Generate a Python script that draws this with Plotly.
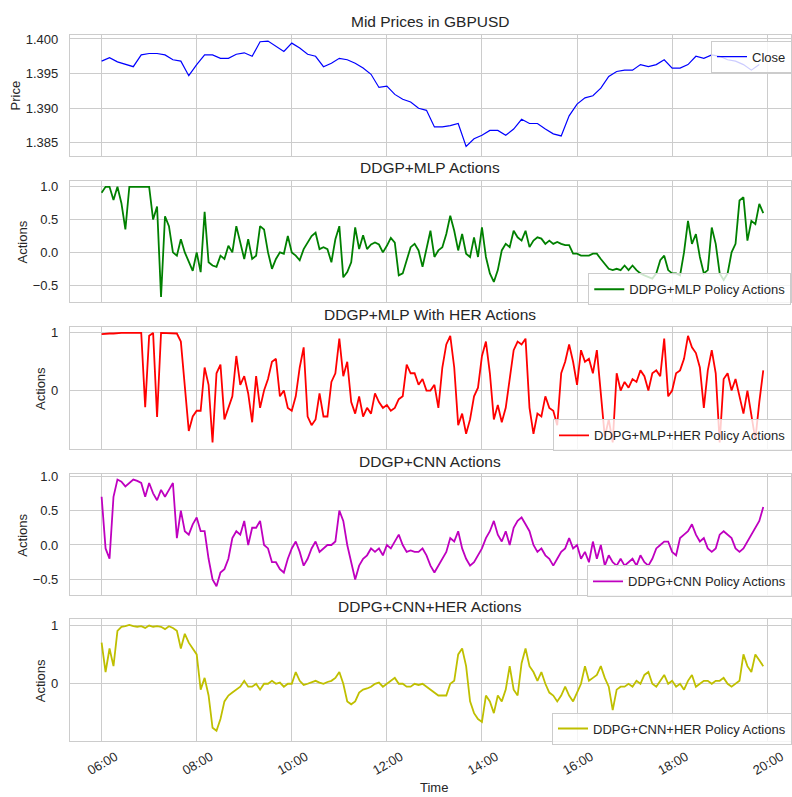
import pandas as pd
import plotly.graph_objects as go
from plotly.subplots import make_subplots

# ---------------- data ----------------
DAY = "2021-01-04 "
# price sampled every 10 minutes from 06:00 to 19:50 (6 values per hour)
price_close = [
    1.3968, 1.3973, 1.3967, 1.3963, 1.3960, 1.3977,   # 06
    1.3979, 1.3979, 1.3977, 1.3970, 1.3968, 1.3947,   # 07
    1.3963, 1.3977, 1.3977, 1.3972, 1.3972, 1.3978,   # 08
    1.3980, 1.3975, 1.3996, 1.3997, 1.3989, 1.3982,   # 09
    1.3994, 1.3987, 1.3978, 1.3975, 1.3960, 1.3965,   # 10
    1.3972, 1.3970, 1.3965, 1.3958, 1.3949, 1.3930,   # 11
    1.3932, 1.3920, 1.3913, 1.3909, 1.3900, 1.3897,   # 12
    1.3873, 1.3873, 1.3875, 1.3878, 1.3845, 1.3856,   # 13
    1.3861, 1.3868, 1.3868, 1.3861, 1.3870, 1.3884,   # 14
    1.3878, 1.3878, 1.3870, 1.3863, 1.3860, 1.3889,   # 15
    1.3906, 1.3915, 1.3918, 1.3929, 1.3946, 1.3953,   # 16
    1.3955, 1.3955, 1.3963, 1.3960, 1.3963, 1.3970,   # 17
    1.3958, 1.3958, 1.3963, 1.3975, 1.3972, 1.3977,   # 18
    1.3975, 1.3970, 1.3968, 1.3963, 1.3955, 1.3963,   # 19
]

# actions sampled every 5 minutes from 06:00 to 19:55 (12 values per hour)
mlp_actions = [
    0.91, 1.0, 1.0, 0.8, 1.0, 0.75, 0.35, 1.0, 1.0, 1.0, 1.0, 1.0,
    1.0, 0.5, 0.7, -0.68, 0.55, 0.4, 0.0, -0.05, 0.2, 0.0, -0.15, -0.28,
    0.0, -0.3, 0.62, -0.15, -0.2, -0.22, -0.05, -0.1, 0.1, 0.0, 0.4, 0.15,
    -0.1, 0.2, -0.1, -0.05, 0.4, 0.35, 0.0, -0.25, -0.1, 0.0, -0.02, 0.25,
    0.0, -0.05, -0.12, 0.05, 0.15, 0.25, 0.3, 0.05, 0.08, 0.05, -0.15, 0.2,
    0.4, -0.38, -0.3, -0.15, 0.38, 0.05, 0.26, 0.05, 0.12, 0.15, 0.12, 0.0,
    0.1, 0.22, 0.15, -0.35, -0.32, -0.12, 0.08, 0.13, 0.03, -0.22, 0.08, 0.33,
    -0.07, 0.03, 0.08, 0.28, 0.56, 0.33, 0.03, 0.28, -0.02, -0.07, 0.23, -0.07,
    0.38, -0.07, -0.32, -0.45, -0.27, 0.03, 0.13, 0.08, 0.33, 0.23, 0.18, 0.33,
    0.08, 0.18, 0.23, 0.21, 0.13, 0.18, 0.13, 0.16, 0.13, 0.11, 0.11, -0.02,
    -0.02, -0.05, -0.05, -0.05, -0.02, -0.02, -0.1, -0.17, -0.25, -0.27, -0.25, -0.27,
    -0.2, -0.27, -0.2, -0.27, -0.32, -0.35, -0.37, -0.4, -0.32, -0.12, -0.05, -0.27,
    -0.32, -0.32, -0.35, 0.0, 0.48, 0.13, 0.28, -0.07, -0.32, -0.27, 0.38, 0.13,
    -0.32, -0.42, -0.32, 0.0, 0.13, 0.79, 0.84, 0.18, 0.48, 0.43, 0.74, 0.6,
]

mlp_her_actions = [
    0.98, 0.99, 0.99, 0.99, 1.0, 1.0, 1.0, 1.0, 1.0, 1.0, 1.0, -0.29,
    0.95, 1.0, -0.46, 1.0, 1.0, 1.0, 1.0, 0.99, 0.85, 0.0, -0.7, -0.45,
    -0.35, -0.35, 0.4, 0.1, -0.9, 0.3, 0.45, -0.5, -0.3, -0.1, 0.6, 0.1,
    0.25, -0.05, -0.55, 0.25, -0.3, 0.0, 0.2, 0.5, 0.55, -0.1, 0.0, -0.3,
    -0.35, -0.1, 0.4, 0.75, -0.45, -0.6, -0.5, -0.05, -0.45, -0.45, 0.15, 0.3,
    0.9, 0.25, 0.5, -0.2, -0.4, -0.1, -0.45, -0.3, -0.4, -0.05, -0.2, -0.3,
    -0.25, -0.35, -0.3, -0.15, -0.1, 0.45, 0.3, 0.3, 0.1, 0.2, 0.0, 0.0,
    0.1, -0.3, 0.4, 0.8, 0.95, 0.4, -0.6, -0.4, -0.75, -0.5, -0.1, 0.05,
    0.6, 0.85, 0.3, -0.5, -0.25, -0.55, -0.3, 0.2, 0.7, 0.85, 0.8, 0.9,
    -0.3, -0.75, -0.4, -0.45, -0.1, -0.3, -0.35, -0.6, 0.3, 0.5, 0.8, 0.5,
    0.1, 0.7, 0.5, 0.55, 0.3, 0.7, -0.1, -0.8, -0.5, -0.9, 0.3, 0.0,
    0.15, 0.05, 0.2, 0.15, 0.35, 0.25, 0.0, 0.3, 0.35, 0.25, 0.9, -0.1,
    0.0, 0.3, 0.35, 0.55, 0.95, 0.75, 0.65, 0.4, -0.3, 0.35, 0.7, 0.3,
    -0.9, 0.2, 0.3, 0.0, 0.2, -0.1, -0.4, 0.0, -0.4, -0.85, -0.2, 0.35,
]

cnn_actions = [
    0.7, -0.05, -0.2, 0.7, 0.95, 0.92, 0.85, 0.9, 0.95, 0.93, 0.9, 0.7,
    0.9, 0.75, 0.65, 0.8, 0.7, 0.8, 0.9, 0.1, 0.5, 0.2, 0.15, 0.3,
    0.4, 0.2, 0.2, -0.2, -0.5, -0.6, -0.4, -0.35, -0.2, 0.1, 0.2, 0.15,
    0.35, 0.0, 0.25, 0.25, 0.35, 0.0, -0.05, -0.25, -0.25, -0.35, -0.4, -0.2,
    -0.05, 0.05, -0.1, -0.3, -0.2, -0.05, 0.05, -0.1, -0.05, 0.0, 0.0, 0.05,
    0.5, 0.35, 0.0, -0.25, -0.5, -0.3, -0.2, -0.15, -0.05, -0.1, -0.05, -0.15,
    0.0, -0.05, 0.05, 0.15, 0.0, -0.1, -0.08, -0.1, -0.1, -0.05, -0.15, -0.3,
    -0.4, -0.3, -0.2, -0.1, 0.1, 0.05, 0.2, -0.05, -0.2, -0.3, -0.25, -0.15,
    -0.05, 0.1, 0.2, 0.35, 0.15, 0.05, 0.2, 0.0, 0.25, 0.35, 0.4, 0.3,
    0.2, 0.0, -0.1, -0.05, -0.15, -0.2, -0.3, -0.2, -0.1, -0.05, 0.1, -0.05,
    0.0, -0.2, -0.1, -0.25, 0.05, -0.2, 0.0, -0.3, -0.15, -0.25, -0.3, -0.2,
    -0.3, -0.25, -0.2, -0.3, -0.15, -0.25, -0.3, -0.2, -0.05, 0.0, 0.05, 0.05,
    -0.1, -0.15, 0.1, 0.15, 0.2, 0.3, 0.15, 0.05, 0.1, -0.05, -0.1, -0.05,
    0.15, 0.2, 0.15, 0.1, -0.05, -0.1, -0.05, 0.05, 0.15, 0.25, 0.35, 0.55,
]

cnn_her_actions = [
    0.7, 0.2, 0.6, 0.3, 0.9, 0.97, 0.98, 1.0, 0.98, 0.97, 0.98, 0.95,
    0.99, 0.97, 0.98, 0.97, 0.93, 0.98, 0.95, 0.9, 0.6, 0.85, 0.7, 0.6,
    0.5, -0.1, 0.1, -0.2, -0.75, -0.8, -0.6, -0.3, -0.2, -0.15, -0.1, -0.05,
    0.05, -0.05, -0.05, 0.0, -0.1, 0.0, 0.0, 0.05, 0.0, 0.02, -0.05, 0.0,
    0.0, 0.2, 0.05, -0.02, 0.0, 0.03, 0.05, 0.02, 0.0, 0.03, 0.05, 0.1,
    0.2, 0.0, -0.3, -0.35, -0.3, -0.15, -0.1, -0.08, -0.05, 0.0, 0.02, -0.05,
    0.0, 0.05, 0.1, 0.0, 0.0, -0.05, -0.05, 0.0, -0.02, 0.0, -0.05, -0.1,
    -0.15, -0.2, -0.2, -0.2, 0.0, 0.05, 0.5, 0.6, 0.3, -0.3, -0.5, -0.6,
    -0.65, -0.2, -0.3, -0.5, -0.2, -0.3, -0.1, 0.3, -0.1, -0.2, 0.35, 0.6,
    0.3, 0.2, 0.05, 0.2, 0.0, -0.15, -0.2, -0.3, -0.2, -0.05, -0.2, -0.3,
    -0.15, 0.0, 0.3, 0.05, 0.1, 0.15, 0.3, 0.1, -0.05, -0.45, -0.1, -0.05,
    -0.05, 0.0, -0.05, 0.05, 0.0, 0.15, 0.2, 0.0, -0.05, 0.05, 0.15, 0.0,
    0.05, -0.05, 0.0, -0.1, 0.05, 0.15, -0.05, 0.0, 0.05, 0.05, 0.0, 0.05,
    0.05, 0.1, 0.0, -0.05, 0.0, 0.05, 0.5, 0.3, 0.2, 0.5, 0.4, 0.3,
]

times_price = pd.date_range(DAY + "06:00", periods=len(price_close), freq="10min")
times_actions = pd.date_range(DAY + "06:00", periods=len(mlp_actions), freq="5min")

x_tick_labels = ["06:00", "08:00", "10:00", "12:00", "14:00", "16:00", "18:00", "20:00"]
x_tick_vals = [DAY + t for t in x_tick_labels]

panel_titles = ["Mid Prices in GBPUSD", "DDGP+MLP Actions", "DDGP+MLP With HER Actions",
                "DDGP+CNN Actions", "DDPG+CNN+HER Actions"]
y_titles = ["Price", "Actions", "Actions", "Actions", "Actions"]
series_names = ["Close", "DDPG+MLP Policy Actions", "DDPG+MLP+HER Policy Actions",
                "DDPG+CNN Policy Actions", "DDPG+CNN+HER Policy Actions"]
y_tick_vals = [[1.385, 1.390, 1.395, 1.400], [-0.5, 0.0, 0.5, 1.0], [0, 1],
               [-0.5, 0.0, 0.5, 1.0], [0, 1]]
y_tick_text = [["1.385", "1.390", "1.395", "1.400"], ["\u22120.5", "0.0", "0.5", "1.0"],
               ["0", "1"], ["\u22120.5", "0.0", "0.5", "1.0"], ["0", "1"]]

# ---------------- styling / layout ----------------
W, H = 792, 797
colors = ["#0000ff", "#008000", "#ff0000", "#bf00bf", "#bfbf00"]
widths = [1.2, 1.8, 1.8, 1.8, 1.8]
panel_px = [(30, 152), (177, 299), (324, 447), (472, 594), (618, 741)]  # top, bottom in px
y_ranges = [[1.3831, 1.4006], [-0.758, 1.09], [-1.017, 1.103], [-0.73, 1.03], [-0.98, 1.10]]
legend_px = [(712, 36), (589, 270), (554, 417), (588, 564), (553, 712)]
ylabel_x = [15, 23, 40, 23, 40]
GRID = "#cccccc"
TXT = "#262626"
FONT = "Liberation Sans, Arial, sans-serif"

fig = make_subplots(rows=5, cols=1)

xs = [times_price] + [times_actions] * 4
ys = [price_close, mlp_actions, mlp_her_actions, cnn_actions, cnn_her_actions]
for i in range(5):
    leg = "legend" if i == 0 else f"legend{i + 1}"
    fig.add_trace(go.Scatter(x=xs[i], y=ys[i], mode="lines", name=series_names[i],
                             line=dict(color=colors[i], width=widths[i]),
                             legend=leg), row=i + 1, col=1)

layout_updates = {}
annotations = []
for i in range(5):
    top, bot = panel_px[i]
    xa = "xaxis" if i == 0 else f"xaxis{i + 1}"
    ya = "yaxis" if i == 0 else f"yaxis{i + 1}"
    layout_updates[xa] = dict(
        domain=[70 / W, 1.0], type="date",
        range=[DAY + "05:20", DAY + "20:30"],
        tickvals=x_tick_vals, ticktext=x_tick_labels,
        showticklabels=(i == 4), tickangle=-30, ticks="",
        showgrid=True, gridcolor=GRID, gridwidth=1,
        showline=True, mirror=True, linecolor=GRID, linewidth=1,
        zeroline=False, tickfont=dict(size=13, color=TXT, family=FONT),
        ticklabelshift=14, ticklabelstandoff=2,
    )
    layout_updates[ya] = dict(
        domain=[1 - bot / H, 1 - top / H], range=y_ranges[i],
        tickvals=y_tick_vals[i], ticktext=y_tick_text[i], ticks="",
        showgrid=True, gridcolor=GRID, gridwidth=1,
        showline=True, mirror=True, linecolor=GRID, linewidth=1,
        zeroline=False, tickfont=dict(size=13, color=TXT, family=FONT),
        ticklabelstandoff=8,
    )
    leg = "legend" if i == 0 else f"legend{i + 1}"
    lx, ly = legend_px[i]
    layout_updates[leg] = dict(
        x=lx / W, y=1 - ly / H, xanchor="left", yanchor="top",
        bgcolor="rgba(255,255,255,0.8)", bordercolor=GRID, borderwidth=1,
        font=dict(size=13, color=TXT, family=FONT),
    )
    annotations.append(dict(text=panel_titles[i], x=431 / W, y=1 - (top - 13) / H,
                            xref="paper", yref="paper", showarrow=False,
                            xanchor="center", yanchor="middle",
                            font=dict(size=15.5, color=TXT, family=FONT)))
    annotations.append(dict(text=y_titles[i], x=ylabel_x[i] / W, y=1 - (top + bot) / 2 / H,
                            xref="paper", yref="paper", showarrow=False, textangle=-90,
                            xanchor="center", yanchor="middle",
                            font=dict(size=13, color=TXT, family=FONT)))

annotations.append(dict(text="Time", x=435 / W, y=1 - 787 / H, xref="paper", yref="paper",
                        showarrow=False, xanchor="center", yanchor="middle",
                        font=dict(size=13, color=TXT, family=FONT)))

fig.update_layout(
    width=W, height=H, margin=dict(l=0, r=0, t=0, b=0),
    plot_bgcolor="white", paper_bgcolor="white",
    font=dict(family=FONT, size=13, color=TXT),
    showlegend=True, annotations=annotations,
    **layout_updates,
)

fig.write_html("out.html", config={"displayModeBar": False},
               post_script="document.body.style.margin='0';document.body.style.overflow='hidden';")
